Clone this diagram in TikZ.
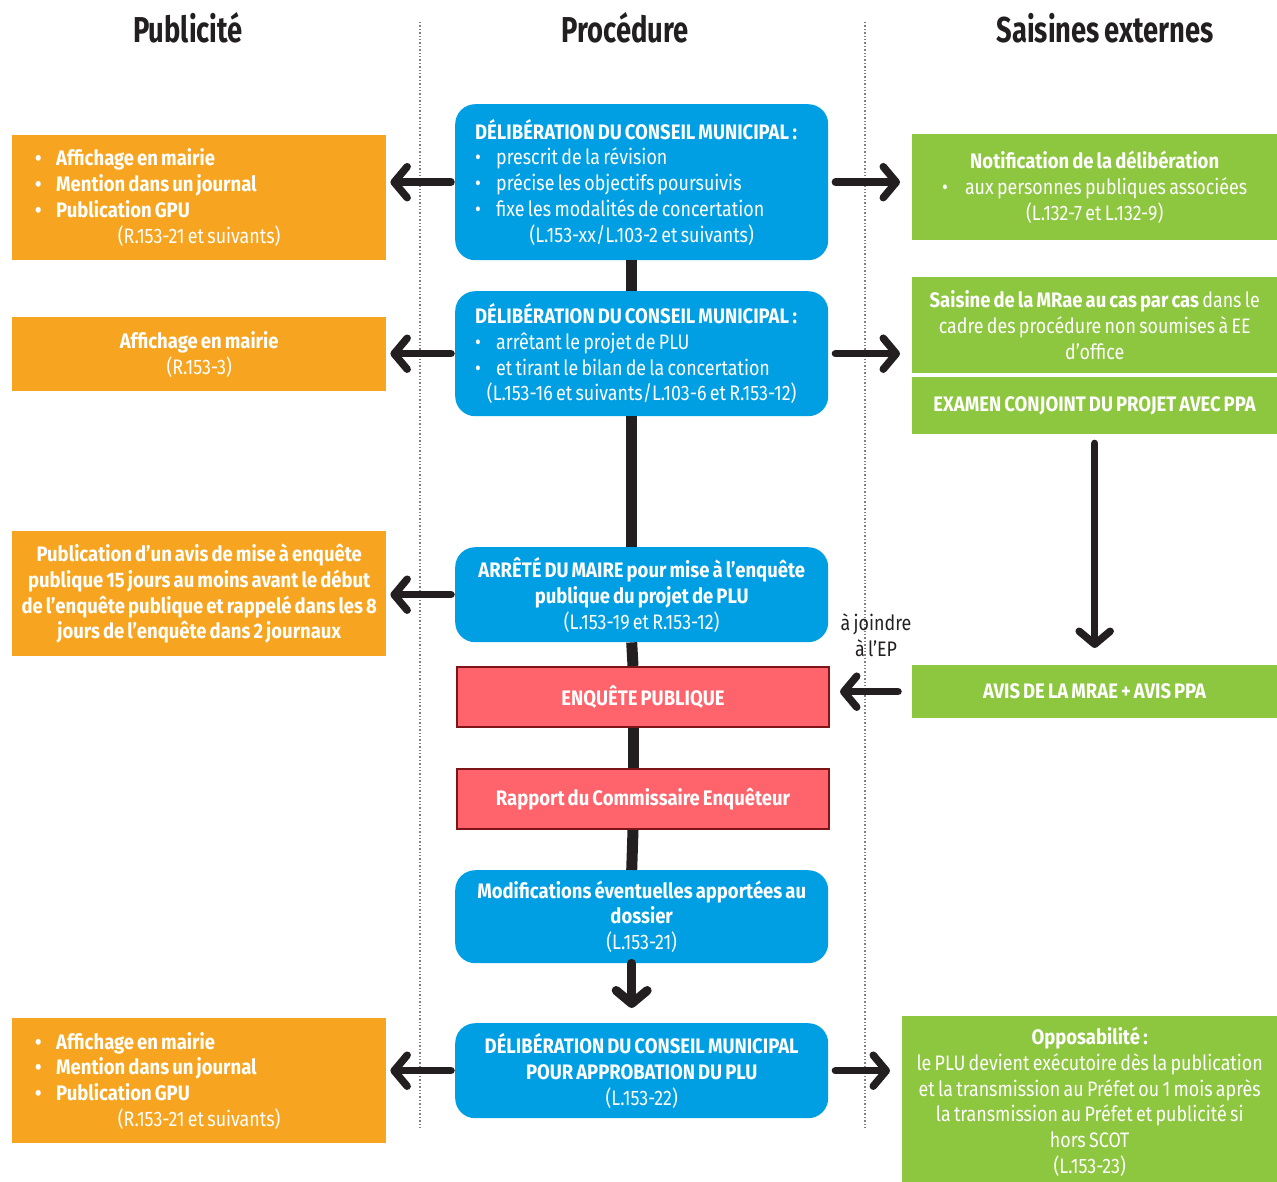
\documentclass[tikz,border=0pt]{standalone}
\usepackage{fontspec}
\setmainfont{Fira Sans}[FakeStretch=0.85, WordSpace=0.7, BoldFeatures={FakeStretch=0.88}]
\newfontfamily\titlefont{Fira Sans}[FakeStretch=0.76, WordSpace=0.7]
\usetikzlibrary{arrows.meta}
\definecolor{Orange}{HTML}{F7A520}
\definecolor{Azure}{HTML}{009FE3}
\definecolor{Leaf}{HTML}{8DC63F}
\definecolor{Coral}{HTML}{FF646C}
\definecolor{Wine}{HTML}{7D1418}
\definecolor{Ink}{HTML}{231F20}
\newcommand{\itm}[1]{\makebox[21pt][l]{\textbullet}#1}
\newcommand{\bodyfont}{\fontsize{21}{25.8}\selectfont}
\tikzset{
  box/.style={anchor=north west, inner sep=0pt, text=white, font=\bodyfont, align=center},
  pub/.style={box, fill=Orange, minimum width=374pt},
  publist/.style={pub, align=flush left, text width=328pt, inner xsep=23pt},
  proc/.style={box, fill=Azure, rounded corners=20pt, minimum width=373pt},
  proclist/.style={proc, align=flush left, text width=333pt, inner xsep=20pt},
  enq/.style={box, fill=Coral, draw=Wine, line width=2pt, minimum width=372pt},
  ext/.style={box, fill=Leaf, minimum width=365pt},
  coltitle/.style={text=Ink, font=\fontsize{36}{40}\titlefont\bfseries},
  arr/.style={draw=Ink, line width=7.5pt, line cap=round, -{Straight Barb[length=13pt, width=31pt, line join=round, line cap=round]}},
  spine/.style={draw=Ink, line width=11pt},
  sep/.style={draw=gray, line width=1.4pt, dotted}
}
\begin{document}
\begin{tikzpicture}[x=1pt, y=-1pt]
\useasboundingbox (0,0) rectangle (1277,1182);
% column titles and separators
\node[coltitle] (tpub) at (188,28) {Publicité};
\node[coltitle] (tproc) at (625,28) {Procédure};
\node[coltitle] (text) at (1105,28) {Saisines externes};
\draw[sep] (420,22) -- (420,1128);
\draw[sep] (865,22) -- (865,1128);

% procedure
\node[proclist, minimum height=156pt] (b1) at (455,104) {\textbf{DÉLIBÉRATION DU CONSEIL MUNICIPAL\,:}\\
\itm{prescrit de la révision}\\
\itm{précise les objectifs poursuivis}\\
\itm{fixe les modalités de concertation}\par
{\centering (L.153-xx/L.103-2 et suivants)\par}};
\node[proclist, minimum height=125pt] (b2) at (455,291) {\textbf{DÉLIBÉRATION DU CONSEIL MUNICIPAL\,:}\\
\itm{arrêtant le projet de PLU}\\
\itm{et tirant le bilan de la concertation}\par
{\centering (L.153-16 et suivants/L.103-6 et R.153-12)\par}};
\node[proc, minimum height=95pt] (b3) at (455,547) {\textbf{ARRÊTÉ DU MAIRE pour mise à l’enquête}\\\textbf{publique du projet de PLU}\\(L.153-19 et R.153-12)};
\node[enq, minimum height=60pt] (r1) at (456,666) {\textbf{ENQUÊTE PUBLIQUE}};
\node[enq, minimum height=60pt] (r2) at (456,768) {\textbf{Rapport du Commissaire Enquêteur}};
\node[proc, minimum height=93pt] (b4) at (455,870) {\textbf{Modifications éventuelles apportées au}\\\textbf{dossier}\\(L.153-21)};
\node[proc, minimum height=95pt] (b5) at (455,1023) {\textbf{DÉLIBÉRATION DU CONSEIL MUNICIPAL}\\\textbf{POUR APPROBATION DU PLU}\\(L.153-22)};

% publicite
\node[publist, minimum height=125pt] (o1) at (12,135) {\textbf{\itm{Affichage en mairie}}\\
\textbf{\itm{Mention dans un journal}}\\
\textbf{\itm{Publication GPU}}\par
{\centering (R.153-21 et suivants)\par}};
\node[pub, minimum height=74pt] (o2) at (12,317) {\textbf{Affichage en mairie}\\(R.153-3)};
\node[pub, font=\bodyfont\bfseries, minimum height=125pt] (o3) at (12,531) {Publication d’un avis de mise à enquête\\publique 15 jours au moins avant le début\\de l’enquête publique et rappelé dans les 8\\jours de l’enquête dans 2 journaux};
\node[publist, minimum height=125pt] (o4) at (12,1018) {\textbf{\itm{Affichage en mairie}}\\
\textbf{\itm{Mention dans un journal}}\\
\textbf{\itm{Publication GPU}}\par
{\centering (R.153-21 et suivants)\par}};

% saisines externes
\node[ext, minimum height=106pt] (g1) at (912,134) {\textbf{Notification de la délibération}\\\textbullet\hspace{17pt}aux personnes publiques associées\\(L.132-7 et L.132-9)};
\node[ext, minimum height=96pt] (g2) at (912,277) {\textbf{Saisine de la MRae au cas par cas} dans le\\cadre des procédure non soumises à EE\\d’office};
\node[ext, minimum height=57pt] (g3) at (912,377) {\textbf{EXAMEN CONJOINT DU PROJET AVEC PPA}};
\node[ext, minimum height=53pt] (g4) at (912,665) {\textbf{AVIS DE LA MRAE + AVIS PPA}};
\node[ext, minimum width=375pt, minimum height=171pt, yshift=-5pt] (g5) at (902,1011) {\textbf{Opposabilité\,:}\\le PLU devient exécutoire dès la publication\\et la transmission au Préfet ou 1 mois après\\la transmission au Préfet et publicité si\\hors SCOT\\(L.153-23)};
\node[text=Ink, font=\bodyfont, align=center] (joindre) at (876,635) {à joindre\\à l’EP};

% connectors
\foreach \a/\b in {b1/b2,b2/b3,b3/r1,r1/r2,r2/b4}
  \draw[spine] ([xshift=-10pt]\a.south) -- ([xshift=-10pt]\b.north);
\draw[arr, line width=9pt, shorten >=15pt] ([xshift=-10pt]b4.south) -- ([xshift=-10pt]b5.north);
\foreach \s/\t in {b1/o1,b2/o2,b3/o3,b5/o4}
  \draw[arr, shorten <=4pt, shorten >=4pt] (\s.west) -- (\s.west -| \t.east);
\foreach \s/\t in {b1/g1,b2/g2,b5/g5}
  \draw[arr, shorten <=7pt, shorten >=12pt] (\s.east) -- (\s.east -| \t.west);
\draw[arr, shorten <=14pt, shorten >=10pt] (g4.west) -- (g4.west -| r1.east);
\draw[arr, shorten <=9pt, shorten >=17pt] (g3) -- (g4);
\end{tikzpicture}
\end{document}
